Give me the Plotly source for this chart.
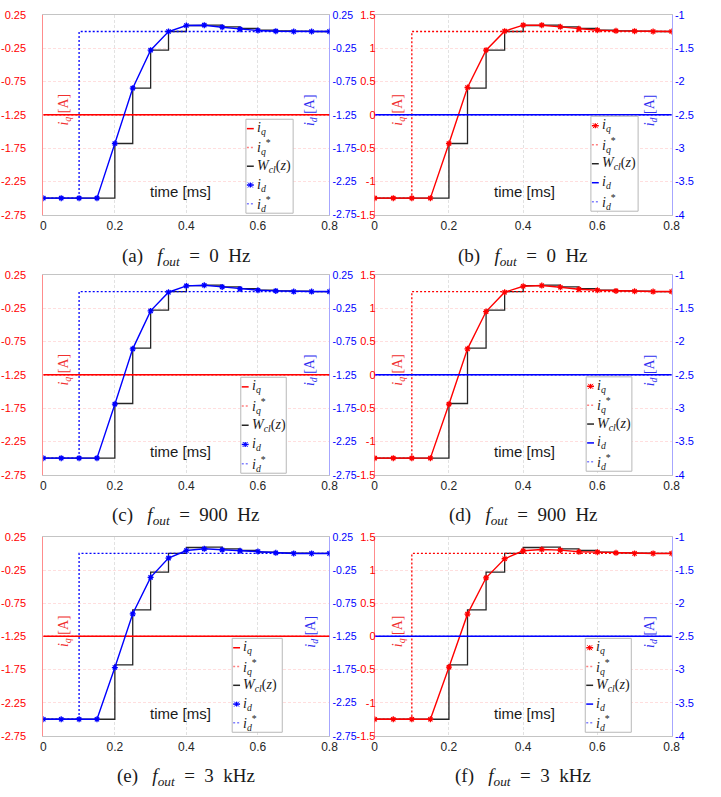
import plotly.graph_objects as go

W, H = 721, 797

# ---------------------------------------------------------------- data
t_ms = [0.0, 0.05, 0.1, 0.15, 0.2, 0.25, 0.3, 0.35, 0.4,
        0.45, 0.5, 0.55, 0.6, 0.65, 0.7, 0.75, 0.8]

# d-axis step tests (left column): i_q held, i_d stepped -2.5 A -> 0 A
iq_hold = [-1.25, -1.25, -1.25, -1.25, -1.25, -1.25, -1.25, -1.25, -1.25,
           -1.25, -1.25, -1.25, -1.25, -1.25, -1.25, -1.25, -1.25]
id_step_ref = [-2.5, -2.5, 0.0, 0.0, 0.0, 0.0, 0.0, 0.0, 0.0,
               0.0, 0.0, 0.0, 0.0, 0.0, 0.0, 0.0, 0.0]
wcl_d = [-2.5, -2.5, -2.5, -2.5, -1.68, -0.85, -0.28, 0.0, 0.09,
         0.095, 0.07, 0.045, 0.02, 0.01, 0.005, 0.0, 0.0]
id_a = [-2.5, -2.5, -2.5, -2.5, -1.68, -0.85, -0.28, 0.0, 0.09,
        0.095, 0.065, 0.035, 0.015, 0.005, 0.0, 0.0, 0.0]
id_c = [-2.5, -2.5, -2.5, -2.5, -1.69, -0.86, -0.29, -0.01, 0.085,
        0.095, 0.07, 0.04, 0.02, 0.01, 0.0, 0.0, 0.0]
id_e = [-2.5, -2.5, -2.5, -2.5, -1.72, -0.91, -0.36, -0.07, 0.045,
        0.07, 0.055, 0.04, 0.03, 0.01, 0.0, 0.0, 0.0]

# q-axis step tests (right column): i_d held, i_q stepped -1.25 A -> 1.25 A
id_hold = [-2.5, -2.5, -2.5, -2.5, -2.5, -2.5, -2.5, -2.5, -2.5,
           -2.5, -2.5, -2.5, -2.5, -2.5, -2.5, -2.5, -2.5]
iq_step_ref = [-1.25, -1.25, 1.25, 1.25, 1.25, 1.25, 1.25, 1.25, 1.25,
               1.25, 1.25, 1.25, 1.25, 1.25, 1.25, 1.25, 1.25]
wcl_q = [-1.25, -1.25, -1.25, -1.25, -0.43, 0.40, 0.97, 1.25, 1.34,
         1.345, 1.32, 1.295, 1.27, 1.26, 1.255, 1.25, 1.25]
iq_b = [-1.25, -1.25, -1.25, -1.25, -0.43, 0.41, 0.97, 1.255, 1.345,
        1.345, 1.32, 1.29, 1.27, 1.26, 1.255, 1.25, 1.25]
iq_d = [-1.25, -1.25, -1.25, -1.25, -0.44, 0.39, 0.95, 1.24, 1.33,
        1.34, 1.315, 1.285, 1.27, 1.26, 1.255, 1.25, 1.25]
iq_f = [-1.25, -1.25, -1.25, -1.25, -0.465, 0.335, 0.883, 1.17, 1.29,
        1.31, 1.30, 1.275, 1.27, 1.26, 1.25, 1.25, 1.25]

panel_tags = ["(a)", "(b)", "(c)", "(d)", "(e)", "(f)"]
panel_freqs = ["0 Hz", "0 Hz", "900 Hz", "900 Hz", "3 kHz", "3 kHz"]

x_ticks = [0, 0.2, 0.4, 0.6, 0.8]
d_ticks = [0.25, -0.25, -0.75, -1.25, -1.75, -2.25, -2.75]
q_ticks = [1.5, 1, 0.5, 0, -0.5, -1, -1.5]
d_ticks_q = [-1, -1.5, -2, -2.5, -3, -3.5, -4]

# ---------------------------------------------------------------- style
RED = "#ff0000"
BLUE = "#0000ff"
BLACK = "#262626"
DOTS = "2px,2px"
TICK_FONT = "Arial, Liberation Sans, sans-serif"
SERIF = "Liberation Serif, DejaVu Serif, serif"

# pixel layout of the 3 x 2 grid
COL_PX = [(41, 332), (378, 680)]
ROW_PX = [(9, 212), (273, 476), (539, 741)]
CAPTION_Y = [255, 518, 783]

# legend boxes in axis-domain units: x0, x1, y0, y1
LEGEND_BOX = [
    (0.708, 0.873, 0.008, 0.478),
    (0.728, 0.887, 0.018, 0.493),
    (0.690, 0.849, 0.008, 0.488),
    (0.712, 0.866, 0.018, 0.490),
    (0.660, 0.835, 0.018, 0.490),
    (0.709, 0.864, 0.018, 0.490),
]

fig = go.Figure()


def axis_names(k):
    x = "x" if k == 1 else f"x{k}"
    y = "y" if k == 1 else f"y{k}"
    y2 = f"y{k + 6}"
    return x, y, y2


def fmt(v):
    return f"{v:g}"


shapes = []
annotations = []

for i in range(6):
    k = i + 1
    row, col = i // 2, i % 2
    xa, ya, ya2 = axis_names(k)
    d_panel = col == 0
    pw = COL_PX[col][1] - COL_PX[col][0]
    ph = ROW_PX[row][1] - ROW_PX[row][0]

    # ---------------- traces
    if d_panel:
        meas = [id_a, id_c, id_e][row]
        fig.add_trace(go.Scatter(x=t_ms, y=wcl_d, xaxis=xa, yaxis=ya, mode="lines",
                                 line=dict(color=BLACK, width=1.3, shape="hv"),
                                 showlegend=False, hoverinfo="skip"))
        fig.add_trace(go.Scatter(x=t_ms, y=iq_hold, xaxis=xa, yaxis=ya, mode="lines",
                                 line=dict(color=RED, width=1.3, dash=DOTS),
                                 showlegend=False))
        fig.add_trace(go.Scatter(x=t_ms, y=iq_hold, xaxis=xa, yaxis=ya, mode="lines",
                                 line=dict(color=RED, width=1.5),
                                 showlegend=False))
        fig.add_trace(go.Scatter(x=t_ms, y=id_step_ref, xaxis=xa, yaxis=ya2, mode="lines",
                                 line=dict(color=BLUE, width=1.3, dash=DOTS, shape="hv"),
                                 showlegend=False))
        fig.add_trace(go.Scatter(x=t_ms, y=meas, xaxis=xa, yaxis=ya2, mode="lines+markers",
                                 line=dict(color=BLUE, width=1.4),
                                 marker=dict(symbol="asterisk-open", size=5,
                                             line=dict(color=BLUE, width=1.3)),
                                 showlegend=False))
    else:
        meas = [iq_b, iq_d, iq_f][row]
        fig.add_trace(go.Scatter(x=t_ms, y=wcl_q, xaxis=xa, yaxis=ya, mode="lines",
                                 line=dict(color=BLACK, width=1.3, shape="hv"),
                                 showlegend=False, hoverinfo="skip"))
        fig.add_trace(go.Scatter(x=t_ms, y=iq_step_ref, xaxis=xa, yaxis=ya, mode="lines",
                                 line=dict(color=RED, width=1.3, dash=DOTS, shape="hv"),
                                 showlegend=False))
        fig.add_trace(go.Scatter(x=t_ms, y=meas, xaxis=xa, yaxis=ya, mode="lines+markers",
                                 line=dict(color=RED, width=1.4),
                                 marker=dict(symbol="asterisk-open", size=5,
                                             line=dict(color=RED, width=1.3)),
                                 showlegend=False))
        fig.add_trace(go.Scatter(x=t_ms, y=id_hold, xaxis=xa, yaxis=ya2, mode="lines",
                                 line=dict(color=BLUE, width=1.3, dash=DOTS),
                                 showlegend=False))
        fig.add_trace(go.Scatter(x=t_ms, y=id_hold, xaxis=xa, yaxis=ya2, mode="lines",
                                 line=dict(color=BLUE, width=1.5),
                                 showlegend=False))

    # ---------------- axes
    xdom = [COL_PX[col][0] / W, COL_PX[col][1] / W]
    ydom = [1 - ROW_PX[row][1] / H, 1 - ROW_PX[row][0] / H]
    xkey = "xaxis" if k == 1 else f"xaxis{k}"
    ykey = "yaxis" if k == 1 else f"yaxis{k}"
    y2key = f"yaxis{k + 6}"

    fig.update_layout(**{
        xkey: dict(domain=xdom, anchor=ya, range=[0, 0.8],
                   tickvals=x_ticks, ticktext=[fmt(v) for v in x_ticks],
                   tickfont=dict(family=TICK_FONT, size=12, color=BLACK),
                   showline=True, mirror=True, linecolor="#c4c4c4", linewidth=1,
                   showgrid=True, gridcolor="#e2e2e2", griddash="3px,2px", gridwidth=1,
                   zeroline=False, ticks=""),
    })
    if d_panel:
        lt, lr, rt, rr = d_ticks, [-2.75, 0.25], d_ticks, [-2.75, 0.25]
        standoff, lsize, rsize = 14, 11, 10.5
    else:
        lt, lr, rt, rr = q_ticks, [-1.5, 1.5], d_ticks_q, [-4, -1]
        standoff, lsize, rsize = -4, 11, 11
    fig.update_layout(**{
        ykey: dict(domain=ydom, anchor=xa, range=lr, side="left",
                   tickvals=lt, ticktext=[fmt(v) for v in lt],
                   tickfont=dict(family=TICK_FONT, size=lsize, color=RED),
                   showline=True, linecolor="rgba(255,0,0,0.45)", linewidth=1,
                   showgrid=True, gridcolor="rgba(255,0,0,0.13)", griddash="3px,2px",
                   zeroline=False, ticks="", ticklabelstandoff=standoff),
        y2key: dict(domain=ydom, anchor=xa, overlaying=ya, range=rr, side="right",
                    tickvals=rt, ticktext=[fmt(v) for v in rt],
                    tickfont=dict(family=TICK_FONT, size=rsize, color=BLUE),
                    showline=True, linecolor="rgba(0,0,255,0.35)", linewidth=1,
                    showgrid=False, zeroline=False, ticks="", ticklabelstandoff=0),
    })

    xd = f"{xa} domain"
    yd = f"{ya} domain"

    # ---------------- axis titles drawn inside the frame
    lx = 0.038 if d_panel else 0.046
    rx = 0.973 if d_panel else 0.964
    annotations.append(dict(xref=xd, yref=yd, x=lx, y=0.525, textangle=-90,
                            text="<i>i</i><sub><i>q</i></sub> [A]", showarrow=False,
                            font=dict(family=SERIF, size=14, color="#f03030")))
    annotations.append(dict(xref=xd, yref=yd, x=rx, y=0.525, textangle=-90,
                            text="<i>i</i><sub><i>d</i></sub> [A]", showarrow=False,
                            font=dict(family=SERIF, size=14, color="#3030f0")))
    annotations.append(dict(xref=xd, yref=yd, x=0.478 if d_panel else 0.503, y=0.062,
                            text="time [ms]", showarrow=False,
                            font=dict(family=TICK_FONT, size=15, color="#1a1a1a")))

    # ---------------- legend box
    bx0, bx1, by0, by1 = LEGEND_BOX[i]
    shapes.append(dict(type="rect", xref=xd, yref=yd, x0=bx0, x1=bx1, y0=by0, y1=by1,
                       line=dict(color="#b8b8b8", width=1), fillcolor="white",
                       layer="above"))
    entries = [
        ("<i>i</i><sub><i>q</i></sub>", RED, "solid", not d_panel),
        ("<i>i</i><sub><i>q</i></sub><sup>*</sup>", "#ff8080", DOTS, False),
        ("<i>W</i><sub><i>cl</i></sub>(<i>z</i>)", BLACK, "solid", False),
        ("<i>i</i><sub><i>d</i></sub>", BLUE, "solid", d_panel),
        ("<i>i</i><sub><i>d</i></sub><sup>*</sup>", "#8080ff", DOTS, False),
    ]
    step = (by1 - by0) / 5
    for j, (label, color, dash, mark) in enumerate(entries):
        yc = by1 - (j + 0.5) * step
        sx0 = bx0 + 1.0 / pw
        sx1 = bx0 + 8.0 / pw
        shapes.append(dict(type="line", xref=xd, yref=yd, x0=sx0, x1=sx1, y0=yc, y1=yc,
                           line=dict(color=color, width=1.5, dash=dash), layer="above"))
        if mark:
            cx = (sx0 + sx1) / 2
            dx, dy = 2.5 / pw, 2.5 / ph
            shapes.append(dict(type="line", xref=xd, yref=yd, x0=cx, x1=cx,
                               y0=yc - dy, y1=yc + dy,
                               line=dict(color=color, width=1.3), layer="above"))
            shapes.append(dict(type="line", xref=xd, yref=yd, x0=cx - dx, x1=cx + dx,
                               y0=yc - dy, y1=yc + dy,
                               line=dict(color=color, width=1), layer="above"))
            shapes.append(dict(type="line", xref=xd, yref=yd, x0=cx - dx, x1=cx + dx,
                               y0=yc + dy, y1=yc - dy,
                               line=dict(color=color, width=1), layer="above"))
        annotations.append(dict(xref=xd, yref=yd, x=bx0 + 9.0 / pw, y=yc,
                                xanchor="left", yanchor="middle", text=label,
                                showarrow=False,
                                font=dict(family=SERIF, size=14, color="#1a1a1a")))

    # ---------------- caption under each panel
    annotations.append(dict(xref="paper", yref="paper",
                            x=(COL_PX[col][0] + COL_PX[col][1]) / 2 / W,
                            y=1 - CAPTION_Y[row] / H, xanchor="center", yanchor="middle",
                            text=f"{panel_tags[i]}&nbsp;&nbsp; <i>f</i><sub><i>out</i></sub>"
                                 f"&nbsp; = &nbsp;{panel_freqs[i].replace(' ', '&nbsp;&nbsp;')}",
                            showarrow=False,
                            font=dict(family=SERIF, size=19, color="#1a1a1a")))

fig.update_layout(
    width=W, height=H,
    margin=dict(l=0, r=0, t=0, b=0),
    paper_bgcolor="white", plot_bgcolor="white",
    showlegend=False,
    shapes=shapes,
    annotations=annotations,
)

fig.write_html("out.html")
